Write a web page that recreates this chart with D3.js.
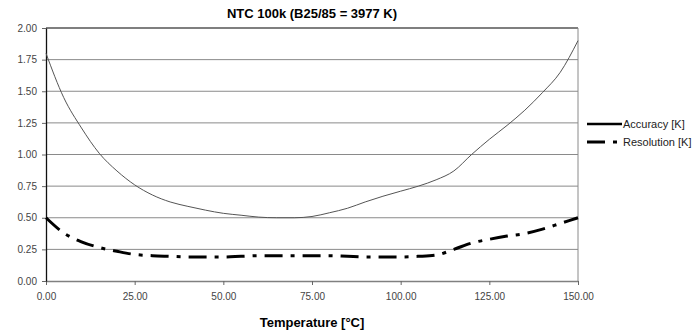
<!DOCTYPE html>
<html>
<head>
<meta charset="utf-8">
<script src="https://cdn.jsdelivr.net/npm/d3@7"></script>
<style>
  body { margin: 0; background: #fff; }
  text { font-family: "Liberation Sans", Arial, sans-serif; }
</style>
</head>
<body>
<div id="chart"></div>
<script>

var temps = [0, 5, 10, 15, 20, 25, 30, 35, 40, 45, 50, 55, 60, 65, 70, 75,
             80, 85, 90, 95, 100, 105, 110, 115, 120, 125, 130, 135, 140, 145, 150];
var accuracy = [1.80, 1.45, 1.21, 1.01, 0.87, 0.76, 0.68, 0.625, 0.59, 0.56, 0.535,
                0.52, 0.505, 0.50, 0.50, 0.51, 0.54, 0.575, 0.625, 0.67, 0.71,
                0.75, 0.80, 0.87, 1.00, 1.12, 1.23, 1.35, 1.49, 1.65, 1.90];
var resolution = [0.50, 0.38, 0.31, 0.265, 0.235, 0.21, 0.20, 0.195, 0.19, 0.19, 0.19,
                  0.195, 0.20, 0.20, 0.20, 0.20, 0.20, 0.195, 0.19, 0.19, 0.19,
                  0.195, 0.205, 0.25, 0.30, 0.33, 0.355, 0.375, 0.41, 0.455, 0.50];
var seriesNames = ["Accuracy [K]", "Resolution [K]"];
var xTicks = [0, 25, 50, 75, 100, 125, 150];
var yTicks = [0, 0.25, 0.5, 0.75, 1, 1.25, 1.5, 1.75, 2];

var svg = d3.select("#chart")
  .append("svg")
  .attr("width", 697)
  .attr("height", 333);

var margin = {top: 28, left: 46, right: 119, bottom: 52},
    width = 697 - margin.left - margin.right,
    height = 333 - margin.top - margin.bottom;

var x = d3.scaleLinear().domain([0, 150]).range([0, width]);
var y = d3.scaleLinear().domain([0, 2]).range([height, 0]);
var fmt = d3.format(".2f");

var g = svg.append("g")
    .attr("transform", "translate(" + margin.left + "," + margin.top + ")");

// gridlines
g.append("g").selectAll("line")
    .data(yTicks.filter(function(d) { return d > 0; }))
  .enter().append("line")
    .attr("x1", 0).attr("x2", width)
    .attr("y1", function(d) { return y(d); })
    .attr("y2", function(d) { return y(d); })
    .attr("stroke", function(d) { return d == 2 ? "#555" : "#8a8a8a"; })
    .attr("stroke-width", function(d) { return d == 2 ? 1.5 : 1; });

// right border
g.append("line")
    .attr("x1", width).attr("x2", width)
    .attr("y1", 0).attr("y2", height)
    .attr("stroke", "#8a8a8a");

// x axis
var xAxis = g.append("g")
    .attr("transform", "translate(0," + height + ")")
    .call(d3.axisBottom(x).tickValues(xTicks).tickFormat(fmt).tickSizeInner(4).tickSizeOuter(0).tickPadding(8));
xAxis.select(".domain").attr("stroke", "#808080").attr("stroke-width", 1.5);
xAxis.selectAll(".tick line").attr("stroke", "#666");
xAxis.selectAll("text").attr("font-size", 10).attr("fill", "#444");

// y axis
var yAxis = g.append("g")
    .call(d3.axisLeft(y).tickValues(yTicks).tickFormat(fmt).tickSizeInner(4).tickSizeOuter(0).tickPadding(5));
yAxis.select(".domain").attr("stroke", "#111").attr("stroke-width", 1.3);
yAxis.selectAll(".tick line").attr("stroke", "#666");
yAxis.selectAll("text").attr("font-size", 10).attr("fill", "#444");

var line = d3.line()
    .x(function(d) { return x(d[0]); })
    .y(function(d) { return y(d[1]); })
    .curve(d3.curveMonotoneX);

g.append("path")
    .datum(d3.zip(temps, accuracy))
    .attr("d", line)
    .attr("fill", "none")
    .attr("stroke", "#555")
    .attr("stroke-width", 1);

g.append("path")
    .datum(d3.zip(temps, resolution))
    .attr("d", line)
    .attr("fill", "none")
    .attr("stroke", "#000")
    .attr("stroke-width", 3)
    .attr("stroke-dasharray", "18,8,4,8");

// title
svg.append("text")
    .attr("x", margin.left + width / 2)
    .attr("y", 18)
    .attr("text-anchor", "middle")
    .attr("font-size", 13)
    .attr("font-weight", "bold")
    .text("NTC 100k (B25/85 = 3977 K)");

svg.append("text")
    .attr("x", margin.left + width / 2)
    .attr("y", 327)
    .attr("text-anchor", "middle")
    .attr("font-size", 13)
    .attr("font-weight", "bold")
    .text("Temperature [\u00B0C]");

// legend
var legend = svg.selectAll(".legend")
    .data(seriesNames)
  .enter().append("g")
    .attr("class", "legend")
    .attr("transform", function(d, i) { return "translate(587," + (124 + i * 18) + ")"; });

legend.append("line")
    .attr("x1", 0).attr("x2", 35)
    .attr("stroke", "#000")
    .attr("stroke-width", function(d, i) { return i == 0 ? 2.5 : 3; })
    .attr("stroke-dasharray", function(d, i) { return i == 0 ? null : "18,8,4,8"; });

legend.append("text")
    .attr("x", 36)
    .attr("y", 4)
    .attr("font-size", 11)
    .attr("fill", "#222")
    .text(function(d) { return d; });

</script>
</body>
</html>
